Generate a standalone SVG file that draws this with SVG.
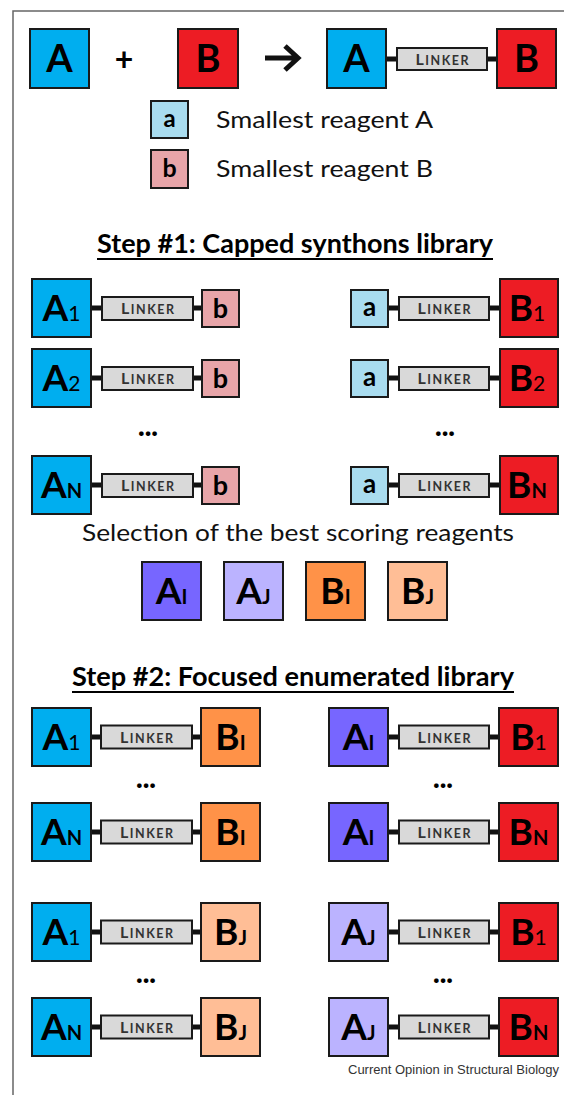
<svg xmlns="http://www.w3.org/2000/svg" width="564" height="1095" viewBox="0 0 564 1095">
<style>
.box{stroke:#1a1a1a;stroke-width:2}
.ca{fill:#00AEEF}.cb{fill:#ED1C24}.sa{fill:#A9DCEF}.sb{fill:#E8A5A9}
.ai{fill:#7766FF}.aj{fill:#BBB3FF}.bi{fill:#FF9248}.bj{fill:#FFBE96}
.lk{fill:#D9D9D9;stroke:#1a1a1a;stroke-width:2}
.big{font-family:Lato,"Open Sans",sans-serif;font-weight:bold;font-size:37px;text-anchor:middle;fill:#000}
.top{font-size:38px}
.sub{font-size:20px}
.subn{font-size:21px;font-weight:normal}
.sm{font-family:Lato,"Open Sans",sans-serif;font-weight:bold;text-anchor:middle;fill:#000}
.lt{font-family:Lato,"Open Sans",sans-serif;font-weight:bold;font-size:12.5px;fill:#333;text-anchor:middle}
.lt .L{font-size:16px}
.txt{font-family:Lato,"Open Sans",sans-serif;fill:#111}
.ttl{font-family:Lato,"Open Sans",sans-serif;font-weight:bold;font-size:26px;fill:#000}
.dots{font-family:Lato,"Open Sans",sans-serif;font-weight:900;font-size:28px;text-anchor:middle;fill:#000}
.con{stroke:#111;stroke-width:5;fill:none}
.ul{stroke:#000;stroke-width:2}
</style>
<g id="frame"><path d="M13 1095V11H564" fill="none" stroke="#666" stroke-width="1.5"/></g>

<g id="connectors">
<path class="con" d="M265 58H297M285 46L298 58L285 70"/>
<path class="con" d="M386 59H397M487 59H497"/>
<path class="con" d="M91 308H102M193 308H202M388 308H399M489 308H500"/>
<path class="con" d="M91 378H102M193 378H202M388 378H399M489 378H500"/>
<path class="con" d="M91 485H102M193 485H202M388 485H399M489 485H500"/>
<path class="con" d="M91 737H101M192 737H201M388 737H399M489 737H499"/>
<path class="con" d="M91 832H101M192 832H201M388 832H399M489 832H499"/>
<path class="con" d="M91 932H101M192 932H201M388 932H399M489 932H499"/>
<path class="con" d="M91 1027H101M192 1027H201M388 1027H399M489 1027H499"/>
</g>

<!-- top reaction -->
<g id="top-A"><rect class="box ca" x="30" y="29" width="59" height="59"/><text class="big top" x="59.5" y="72">A</text></g>
<g id="plus"><text class="sm" x="124" y="71" font-size="32">+</text></g>
<g id="top-B"><rect class="box cb" x="178" y="29" width="60" height="59"/><text class="big top" x="208" y="72">B</text></g>
<g id="prod-A"><rect class="box ca" x="327" y="29" width="59" height="59"/><text class="big top" x="356.5" y="72">A</text></g>
<g id="prod-L"><rect class="lk" x="397" y="48" width="90" height="22"/><text class="lt" x="442" y="65" textLength="53" lengthAdjust="spacing"><tspan class="L">L</tspan>INKER</text></g>
<g id="prod-B"><rect class="box cb" x="497" y="29" width="59" height="59"/><text class="big top" x="526.5" y="72">B</text></g>

<!-- legend -->
<g id="leg-a"><rect class="box sa" x="151" y="101" width="37" height="37"/><text class="sm" x="169.5" y="127" font-size="24">a</text><text class="txt" x="216" y="128" font-size="24" textLength="217" lengthAdjust="spacingAndGlyphs">Smallest reagent A</text></g>
<g id="leg-b"><rect class="box sb" x="151" y="150" width="37" height="38"/><text class="sm" x="169.5" y="177" font-size="25">b</text><text class="txt" x="216" y="177" font-size="24" textLength="217" lengthAdjust="spacingAndGlyphs">Smallest reagent B</text></g>

<!-- step 1 -->
<g id="step1-title"><text class="ttl" x="97" y="253" textLength="396" lengthAdjust="spacingAndGlyphs">Step #1: Capped synthons library</text><line class="ul" x1="97" y1="259" x2="493" y2="259"/></g>

<g id="s1-r1-left">
<rect class="box ca" x="32" y="279" width="59" height="58"/><text class="big" x="61.5" y="321">A<tspan class="subn">1</tspan></text>
<rect class="lk" x="102" y="297" width="91" height="23"/><text class="lt" x="147.5" y="314" textLength="53" lengthAdjust="spacing"><tspan class="L">L</tspan>INKER</text>
<rect class="box sb" x="202" y="290" width="37" height="37"/><text class="sm" x="220.5" y="318" font-size="27">b</text>
</g>
<g id="s1-r1-right">
<rect class="box sa" x="351" y="290" width="37" height="37"/><text class="sm" x="369.5" y="316" font-size="26">a</text>
<rect class="lk" x="399" y="297" width="90" height="23"/><text class="lt" x="444" y="314" textLength="53" lengthAdjust="spacing"><tspan class="L">L</tspan>INKER</text>
<rect class="box cb" x="500" y="279" width="58" height="58"/><text class="big" x="527" y="321">B<tspan class="subn">1</tspan></text>
</g>

<g id="s1-r2-left">
<rect class="box ca" x="32" y="349" width="59" height="58"/><text class="big" x="61.5" y="391">A<tspan class="subn">2</tspan></text>
<rect class="lk" x="102" y="367" width="91" height="23"/><text class="lt" x="147.5" y="384" textLength="53" lengthAdjust="spacing"><tspan class="L">L</tspan>INKER</text>
<rect class="box sb" x="202" y="360" width="37" height="37"/><text class="sm" x="220.5" y="388" font-size="27">b</text>
</g>
<g id="s1-r2-right">
<rect class="box sa" x="351" y="360" width="37" height="37"/><text class="sm" x="369.5" y="386" font-size="26">a</text>
<rect class="lk" x="399" y="367" width="90" height="23"/><text class="lt" x="444" y="384" textLength="53" lengthAdjust="spacing"><tspan class="L">L</tspan>INKER</text>
<rect class="box cb" x="500" y="349" width="58" height="58"/><text class="big" x="527" y="391">B<tspan class="subn">2</tspan></text>
</g>

<g id="s1-dots"><text class="dots" x="148" y="436">...</text><text class="dots" x="445" y="436">...</text></g>

<g id="s1-rN-left">
<rect class="box ca" x="32" y="456" width="59" height="58"/><text class="big" x="61.5" y="498">A<tspan class="sub">N</tspan></text>
<rect class="lk" x="102" y="474" width="91" height="23"/><text class="lt" x="147.5" y="491" textLength="53" lengthAdjust="spacing"><tspan class="L">L</tspan>INKER</text>
<rect class="box sb" x="202" y="467" width="37" height="37"/><text class="sm" x="220.5" y="495" font-size="27">b</text>
</g>
<g id="s1-rN-right">
<rect class="box sa" x="351" y="467" width="37" height="37"/><text class="sm" x="369.5" y="493" font-size="26">a</text>
<rect class="lk" x="399" y="474" width="90" height="23"/><text class="lt" x="444" y="491" textLength="53" lengthAdjust="spacing"><tspan class="L">L</tspan>INKER</text>
<rect class="box cb" x="500" y="456" width="58" height="58"/><text class="big" x="527" y="498">B<tspan class="sub">N</tspan></text>
</g>

<!-- selection -->
<g id="selection-label"><text class="txt" x="82" y="541" font-size="23" textLength="432" lengthAdjust="spacingAndGlyphs">Selection of the best scoring reagents</text></g>
<g id="sel-AI"><rect class="box ai" x="142" y="562" width="59" height="58"/><text class="big" x="171.5" y="604">A<tspan class="sub">I</tspan></text></g>
<g id="sel-AJ"><rect class="box aj" x="224" y="562" width="59" height="58"/><text class="big" x="253.5" y="604">A<tspan class="sub">J</tspan></text></g>
<g id="sel-BI"><rect class="box bi" x="306" y="562" width="59" height="58"/><text class="big" x="335.5" y="604">B<tspan class="sub">I</tspan></text></g>
<g id="sel-BJ"><rect class="box bj" x="388" y="562" width="59" height="58"/><text class="big" x="417.5" y="604">B<tspan class="sub">J</tspan></text></g>

<!-- step 2 -->
<g id="step2-title"><text class="ttl" x="72" y="686" textLength="442" lengthAdjust="spacingAndGlyphs">Step #2: Focused enumerated library</text><line class="ul" x1="72" y1="692" x2="514" y2="692"/></g>

<g id="s2-r1-left">
<rect class="box ca" x="32" y="708" width="59" height="58"/><text class="big" x="61.5" y="750">A<tspan class="subn">1</tspan></text>
<rect class="lk" x="101" y="725.5" width="91" height="23"/><text class="lt" x="146.5" y="742.5" textLength="53" lengthAdjust="spacing"><tspan class="L">L</tspan>INKER</text>
<rect class="box bi" x="201" y="708" width="59" height="58"/><text class="big" x="230.5" y="750">B<tspan class="sub">I</tspan></text>
</g>
<g id="s2-r1-right">
<rect class="box ai" x="329" y="708" width="59" height="58"/><text class="big" x="358.5" y="750">A<tspan class="sub">I</tspan></text>
<rect class="lk" x="399" y="725.5" width="90" height="23"/><text class="lt" x="444" y="742.5" textLength="53" lengthAdjust="spacing"><tspan class="L">L</tspan>INKER</text>
<rect class="box cb" x="499" y="708" width="59" height="58"/><text class="big" x="528.5" y="750">B<tspan class="subn">1</tspan></text>
</g>
<g id="s2-dots1"><text class="dots" x="146" y="788">...</text><text class="dots" x="443" y="788">...</text></g>
<g id="s2-r2-left">
<rect class="box ca" x="32" y="803" width="59" height="58"/><text class="big" x="61.5" y="845">A<tspan class="sub">N</tspan></text>
<rect class="lk" x="101" y="820.5" width="91" height="23"/><text class="lt" x="146.5" y="837.5" textLength="53" lengthAdjust="spacing"><tspan class="L">L</tspan>INKER</text>
<rect class="box bi" x="201" y="803" width="59" height="58"/><text class="big" x="230.5" y="845">B<tspan class="sub">I</tspan></text>
</g>
<g id="s2-r2-right">
<rect class="box ai" x="329" y="803" width="59" height="58"/><text class="big" x="358.5" y="845">A<tspan class="sub">I</tspan></text>
<rect class="lk" x="399" y="820.5" width="90" height="23"/><text class="lt" x="444" y="837.5" textLength="53" lengthAdjust="spacing"><tspan class="L">L</tspan>INKER</text>
<rect class="box cb" x="499" y="803" width="59" height="58"/><text class="big" x="528.5" y="845">B<tspan class="sub">N</tspan></text>
</g>

<g id="s2-r3-left">
<rect class="box ca" x="32" y="903" width="59" height="58"/><text class="big" x="61.5" y="945">A<tspan class="subn">1</tspan></text>
<rect class="lk" x="101" y="920.5" width="91" height="23"/><text class="lt" x="146.5" y="937.5" textLength="53" lengthAdjust="spacing"><tspan class="L">L</tspan>INKER</text>
<rect class="box bj" x="201" y="903" width="59" height="58"/><text class="big" x="230.5" y="945">B<tspan class="sub">J</tspan></text>
</g>
<g id="s2-r3-right">
<rect class="box aj" x="329" y="903" width="59" height="58"/><text class="big" x="358.5" y="945">A<tspan class="sub">J</tspan></text>
<rect class="lk" x="399" y="920.5" width="90" height="23"/><text class="lt" x="444" y="937.5" textLength="53" lengthAdjust="spacing"><tspan class="L">L</tspan>INKER</text>
<rect class="box cb" x="499" y="903" width="59" height="58"/><text class="big" x="528.5" y="945">B<tspan class="subn">1</tspan></text>
</g>
<g id="s2-dots2"><text class="dots" x="146" y="983">...</text><text class="dots" x="443" y="983">...</text></g>
<g id="s2-r4-left">
<rect class="box ca" x="32" y="998" width="59" height="58"/><text class="big" x="61.5" y="1040">A<tspan class="sub">N</tspan></text>
<rect class="lk" x="101" y="1015.5" width="91" height="23"/><text class="lt" x="146.5" y="1032.5" textLength="53" lengthAdjust="spacing"><tspan class="L">L</tspan>INKER</text>
<rect class="box bj" x="201" y="998" width="59" height="58"/><text class="big" x="230.5" y="1040">B<tspan class="sub">J</tspan></text>
</g>
<g id="s2-r4-right">
<rect class="box aj" x="329" y="998" width="59" height="58"/><text class="big" x="358.5" y="1040">A<tspan class="sub">J</tspan></text>
<rect class="lk" x="399" y="1015.5" width="90" height="23"/><text class="lt" x="444" y="1032.5" textLength="53" lengthAdjust="spacing"><tspan class="L">L</tspan>INKER</text>
<rect class="box cb" x="499" y="998" width="59" height="58"/><text class="big" x="528.5" y="1040">B<tspan class="sub">N</tspan></text>
</g>

<g id="caption"><text x="559" y="1074" font-family="'Liberation Sans',Arial,sans-serif" font-size="13" fill="#333" text-anchor="end">Current Opinion in Structural Biology</text></g>
</svg>
